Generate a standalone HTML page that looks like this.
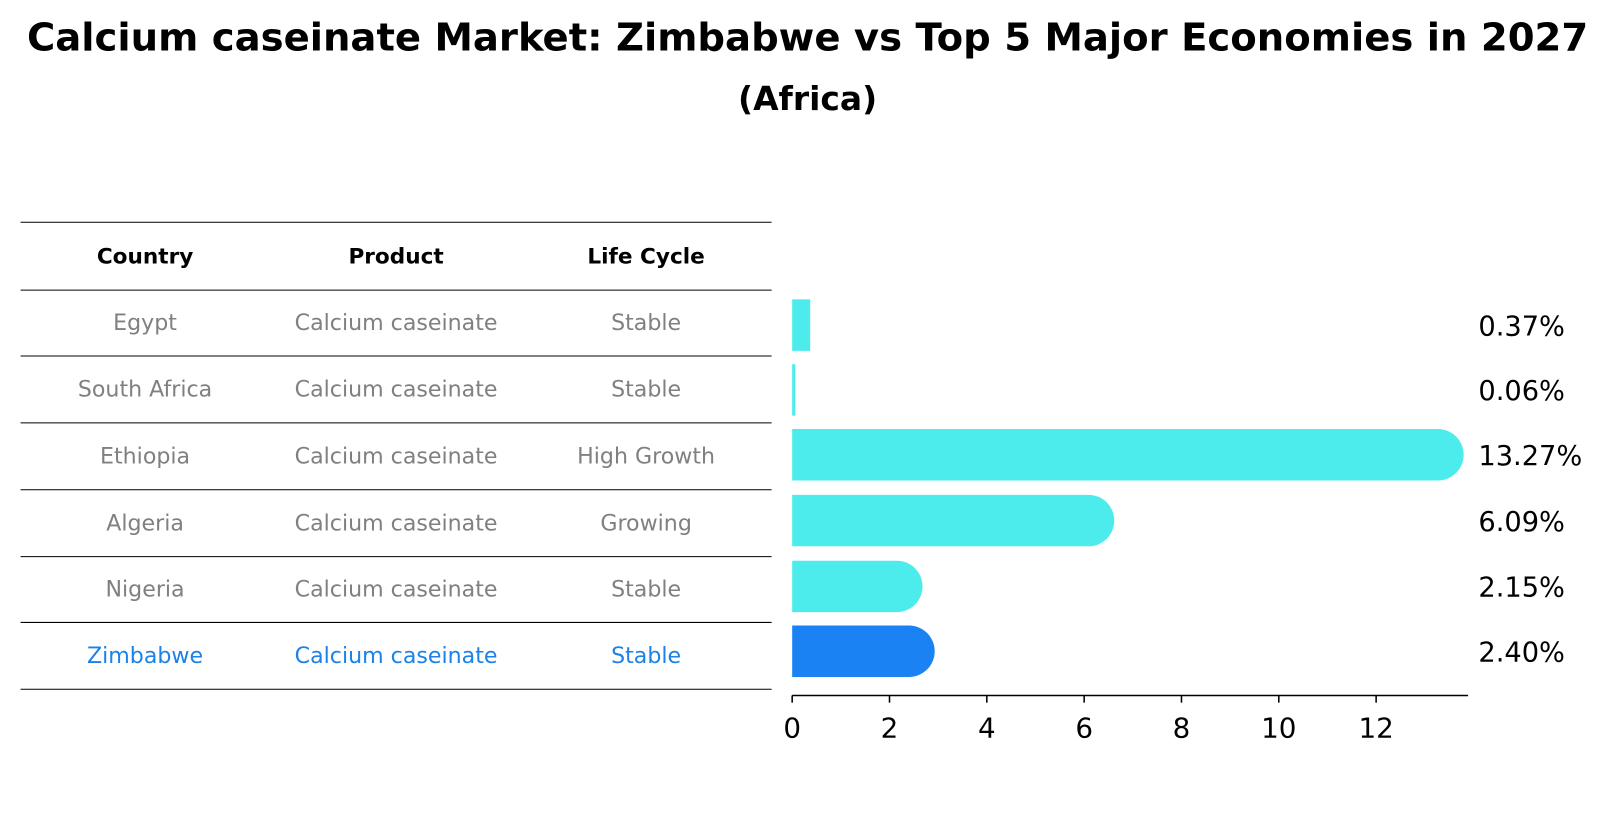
<!DOCTYPE html>
<html><head><meta charset="utf-8"><style>
body{margin:0;background:#fff;font-family:"Liberation Sans","DejaVu Sans",sans-serif}
</style></head><body>
<svg width="1613" height="823" xmlns="http://www.w3.org/2000/svg" font-family="DejaVu Sans, Liberation Sans, sans-serif">
<g transform="scale(1.0288)">
<text x="785" y="49" text-anchor="middle" font-size="37.5" font-weight="bold">Calcium caseinate Market: Zimbabwe vs Top 5 Major Economies in 2027</text>
<text x="785" y="107" text-anchor="middle" font-size="32" font-weight="bold">(Africa)</text>
<g id="table"></g>
<g id="chart"></g>
</g>
</svg>
<script>
const countries=["Egypt","South Africa","Ethiopia","Algeria","Nigeria","Zimbabwe"];
const products=["Calcium caseinate","Calcium caseinate","Calcium caseinate","Calcium caseinate","Calcium caseinate","Calcium caseinate"];
const lifeCycles=["Stable","Stable","High Growth","Growing","Stable","Stable"];
const values=[0.37,0.06,13.27,6.09,2.15,2.40];
const valueLabels=["0.37%","0.06%","13.27%","6.09%","2.15%","2.40%"];
const xTicks=[0,2,4,6,8,10,12];
const NS="http://www.w3.org/2000/svg";
function mk(t,a,p){const e=document.createElementNS(NS,t);for(const k in a)e.setAttribute(k,a[k]);p.appendChild(e);return e;}
const tb=document.getElementById('table'),ch=document.getElementById('chart');
const lineYs=[216,282,346,411,476,541,605,670];
lineYs.forEach((y,i)=>{const l=mk('line',{x1:20,x2:750,y1:y,y2:y,stroke:'#000','stroke-width':1},tb);

});
const colX=[141,385,628];
["Country","Product","Life Cycle"].forEach((h,i)=>{const t=mk('text',{x:colX[i],y:256,'text-anchor':'middle','font-size':21,'font-weight':'bold'},tb);t.textContent=h;

});
function rowY(i){return (lineYs[i+1]+lineYs[i+2])/2;}
countries.forEach((c,i)=>{const col=i===5?'#1a82e8':'#808080';
[c,products[i],lifeCycles[i]].forEach((v,j)=>{const t=mk('text',{x:colX[j],y:rowY(i)+7,'text-anchor':'middle','font-size':21.5,fill:col},tb);t.textContent=v;

});});
const x0=770,ppu=47.3;function xs(v){return x0+v*ppu;}
const barYs=[316,379,442,506,570,633];const bh=50,r=25;
values.forEach((v,i)=>{const cy=barYs[i];const col=i===5?'#1a82f2':'#4beceb';const xe=xs(v);
let d;if(v>=1){d=`M${x0},${cy-bh/2}H${xe}A${r},${r} 0 0 1 ${xe},${cy+bh/2}H${x0}Z`;}else{d=`M${x0},${cy-bh/2}H${Math.max(xe,x0+3)}V${cy+bh/2}H${x0}Z`;}
const p=mk('path',{d:d,fill:col},ch);


const t=mk('text',{x:1437,y:cy+10,'font-size':26.5},ch);t.textContent=valueLabels[i];

});
const ax=mk('line',{x1:x0,x2:1427,y1:676,y2:676,stroke:'#000','stroke-width':1.5},ch);


xTicks.forEach(v=>{const l=mk('line',{x1:xs(v),x2:xs(v),y1:676,y2:683,stroke:'#000','stroke-width':1.5},ch);


const t=mk('text',{x:xs(v),y:717,'text-anchor':'middle','font-size':27},ch);t.textContent=v;

});
</script>
</body></html>
